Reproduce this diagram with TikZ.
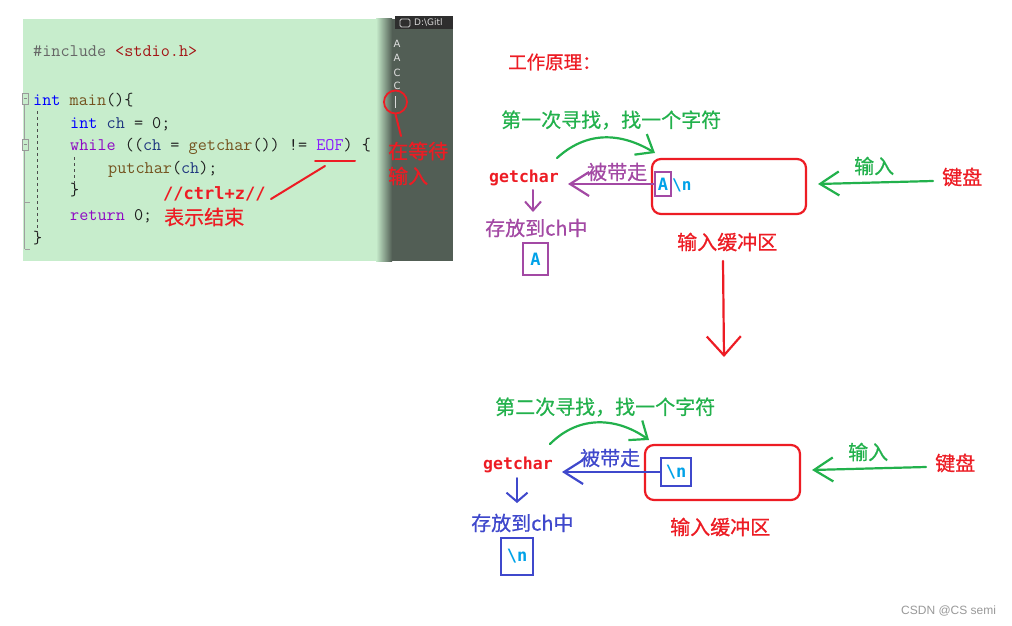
\documentclass[tikz,border=0pt]{standalone}
\usepackage{fontspec}
\usetikzlibrary{arrows.meta}
\newfontfamily\cjk[FakeBold=0.6]{Noto Sans CJK SC}
\newfontfamily\dmono{DejaVu Sans Mono}
\newfontfamily\dsans{DejaVu Sans}
\newfontfamily\lsans{Liberation Sans}
\definecolor{pred}{HTML}{ED1C24}
\definecolor{pgreen}{HTML}{22B14C}
\definecolor{ppurple}{HTML}{A349A4}
\definecolor{pblue}{HTML}{3F48CC}
\definecolor{pcyan}{HTML}{00A2E8}
\definecolor{codebg}{HTML}{C7EDCC}
\definecolor{consbg}{HTML}{525E55}
\definecolor{kwblue}{HTML}{0000FF}
\definecolor{kwpurple}{HTML}{8F08C4}
\definecolor{fnbrown}{HTML}{74531F}
\definecolor{varblue}{HTML}{1F377F}
\definecolor{strred}{HTML}{A31515}
\definecolor{macrocol}{HTML}{8A1BFF}
\definecolor{codetext}{HTML}{1E1E1E}
\tikzset{
  cn/.style={font=\cjk\fontsize{20}{24}\selectfont, inner sep=0pt},
  codeline/.style={font=\ttfamily\fontsize{17.7}{20}\selectfont, text=codetext, anchor=base west, inner sep=0pt},
  monob/.style={font=\dmono\bfseries\fontsize{16.5}{20}\selectfont, inner sep=0pt},
  hand/.style={line width=2.2pt, line cap=round, line join=round},
  chbox/.style={draw, line width=2pt, inner sep=0pt, font=\dmono\bfseries\fontsize{17}{20}\selectfont, text=pcyan},
  bigtip/.style={-{Straight Barb[length=19pt,width=24pt]}},
  smalltip/.style={-{Straight Barb[length=9pt,width=16pt]}},
  curvetip/.style={-{Straight Barb[length=15pt,width=24pt]}},
}
\begin{document}
\begin{tikzpicture}[x=1pt,y=-1pt]
\useasboundingbox (0,0) rectangle (1012,626);
\fill[white] (0,0) rectangle (1012,626);

% ---------- screenshot ----------
\fill[codebg] (23,19) rectangle (392,261);
\shade[left color=codebg, right color=consbg] (376,19) rectangle (392,261);
\fill[consbg] (392,19) rectangle (453,261);
\fill[black!82] (395,16) rectangle (453,29);
\draw[white!80!black, line width=0.8pt, rounded corners=1.5pt] (400,19) rectangle (410,27);
\begin{scope}
\clip (412,16) rectangle (453,29);
\node[font=\dsans\fontsize{9}{10}\selectfont, text=white!85!black, anchor=west, inner sep=0pt] (title) at (414,22.5) {D:\textbackslash Gitl};
\end{scope}

\node[codeline] (l1) at (33,57) {\textcolor{black!60}{\#include} \textcolor{strred}{<stdio.h>}};
\node[codeline] (l2) at (33,105) {\textcolor{kwblue}{int} \textcolor{fnbrown}{main}()\{};
\node[codeline] (l3) at (70,128) {\textcolor{kwblue}{int} \textcolor{varblue}{ch} = 0;};
\node[codeline] (l4) at (70,150) {\textcolor{kwpurple}{while} ((\textcolor{varblue}{ch} = \textcolor{fnbrown}{getchar}()) != \textcolor{macrocol}{EOF}) \{};
\node[codeline] (l5) at (108,173) {\textcolor{fnbrown}{putchar}(\textcolor{varblue}{ch});};
\node[codeline] (l6) at (70,195) {\}};
\node[codeline] (l7) at (70,220) {\textcolor{kwpurple}{return} 0;};
\node[codeline] (l8) at (33,243) {\}};

% gutter
\draw[gray!75, line width=1pt] (24.5,104) -- (24.5,139) (24.5,150) -- (24.5,249);
\draw[gray!75, line width=1pt] (24.5,202) -- (30,202) (24.5,249) -- (30,249);
\draw[gray!80, line width=0.8pt, fill=codebg] (22,93) rectangle (28.5,104);
\draw[gray!90, line width=0.8pt] (23.5,98.5) -- (27,98.5);
\draw[gray!80, line width=0.8pt, fill=codebg] (22,139) rectangle (28.5,150);
\draw[gray!90, line width=0.8pt] (23.5,144.5) -- (27,144.5);
\draw[black!70, line width=1pt, dash pattern=on 3pt off 3pt] (37,111) -- (37,233);
\draw[black!70, line width=1pt, dash pattern=on 3pt off 3pt] (74,157) -- (74,186);

% console
\foreach \yy/\ch [count=\i] in {44/A,58/A,72.5/C,86/C}
  \node[font=\dsans\fontsize{10}{12}\selectfont, text=white!88!black, inner sep=0pt] (con\i) at (397,\yy) {\ch};
\draw[white!85!black, line width=0.8pt] (395,96) -- (395,108);

% red annotations on screenshot
\coordinate (eofa) at (315,160.5);
\coordinate (eofb) at (355,160.5);
\coordinate (ptrA) at (325,166);
\coordinate (ptrB) at (271,199);
\draw[pred, hand, line width=2pt] (eofa) -- (eofb);
\draw[pred, hand, line width=2pt] (ptrA) -- (ptrB);
\node[monob, text=pred, anchor=west, font=\dmono\bfseries\fontsize{17}{20}\selectfont] (ctrlz) at (163,194) {//ctrl+z//};
\node[cn, text=pred, anchor=west] (endtxt) at (164,217) {表示结束};

\node[draw=pred, line width=1.8pt, circle, minimum size=23pt, inner sep=0pt] (cur) at (395.5,102) {};
\node[cn, text=pred, anchor=west] (wait1) at (388,151) {在等待};
\node[cn, text=pred, anchor=west] (wait2) at (388,176) {输入};
\draw[pred, hand, line width=2pt] (cur.south) -- (401,136);

% ---------- right part: first ----------
\node[cn, text=pred, anchor=west, font=\cjk\fontsize{18.5}{22}\selectfont] (ttl) at (508,62) {工作原理：};
\node[cn, text=pgreen, anchor=west] (find1) at (501,120) {第一次寻找，找一个字符};
\node[monob, text=pred, anchor=west] (gc1) at (489,178) {getchar};
\node[cn, text=ppurple, anchor=west] (take1) at (587,172) {被带走};
\node[cn, text=ppurple, anchor=west] (store1) at (485,228) {存放到ch中};
\node[chbox, draw=ppurple, minimum width=25pt, minimum height=32pt] (boxA) at (535.5,259) {A};
\node[draw=pred, line width=2.2pt, rounded corners=9pt, minimum width=154pt, minimum height=55pt] (buf1) at (729,186.5) {};
\node[chbox, draw=ppurple, minimum width=16pt, minimum height=24pt] (inA) at (663,184) {A};
\node[monob, text=pcyan, anchor=west, font=\dmono\bfseries\fontsize{16}{18}\selectfont] (nl1) at (672,185) {\textbackslash n};
\node[cn, text=pgreen, anchor=west] (in1) at (854,166) {输入};
\node[cn, text=pred, anchor=west] (key1) at (942,177) {键盘};
\node[cn, text=pred, anchor=west] (bl1) at (677,242) {输入缓冲区};

\coordinate (c1s) at (557,158);
\coordinate (c1e) at (655,153);
\draw[pgreen, hand, curvetip] (c1s) .. controls (590,128) and (625,135) .. (c1e);
\coordinate (g1e) at (568,184);
\draw[ppurple, hand, bigtip] (inA.west) -- (g1e);
\coordinate (d1s) at (533,190);
\coordinate (d1e) at (533,212);
\draw[ppurple, hand, line width=2pt, smalltip] (d1s) -- (d1e);
\coordinate (k1s) at (933,181);
\coordinate (k1e) at (818,184);
\draw[pgreen, hand, bigtip] (k1s) -- (k1e);

\coordinate (rds) at (723,261);
\coordinate (rde) at (724,357);
\draw[pred, hand, -{Straight Barb[length=19pt,width=34pt]}] (rds) -- (rde);

% ---------- right part: second ----------
\node[cn, text=pgreen, anchor=west] (find2) at (495,407) {第二次寻找，找一个字符};
\node[monob, text=pred, anchor=west] (gc2) at (483,465) {getchar};
\node[cn, text=pblue, anchor=west] (take2) at (580,458) {被带走};
\node[cn, text=pblue, anchor=west] (store2) at (471,523) {存放到ch中};
\node[chbox, draw=pblue, minimum width=32pt, minimum height=37pt] (boxN) at (517,556.5) {\textbackslash n};
\node[draw=pred, line width=2.2pt, rounded corners=9pt, minimum width=155pt, minimum height=55pt] (buf2) at (722.5,472.5) {};
\node[chbox, draw=pblue, minimum width=30pt, minimum height=28pt] (inN) at (676,472) {\textbackslash n};
\node[cn, text=pgreen, anchor=west] (in2) at (848,452) {输入};
\node[cn, text=pred, anchor=west] (key2) at (935,463) {键盘};
\node[cn, text=pred, anchor=west] (bl2) at (670,527) {输入缓冲区};

\coordinate (c2s) at (550,444);
\coordinate (c2e) at (649,440);
\draw[pgreen, hand, curvetip] (c2s) .. controls (580,414) and (618,418) .. (c2e);
\coordinate (g2e) at (562,472);
\draw[pblue, hand, bigtip] (inN.west) -- (g2e);
\coordinate (d2s) at (517,478);
\coordinate (d2e) at (517,503);
\draw[pblue, hand, line width=2pt, -{Straight Barb[length=9pt,width=21pt]}] (d2s) -- (d2e);
\coordinate (k2s) at (926,467);
\coordinate (k2e) at (812,470);
\draw[pgreen, hand, bigtip] (k2s) -- (k2e);

\node[font=\lsans\fontsize{12}{14}\selectfont, text=black!40, anchor=west, inner sep=0pt] (wm) at (901,611) {CSDN @CS semi};
\end{tikzpicture}
\end{document}
